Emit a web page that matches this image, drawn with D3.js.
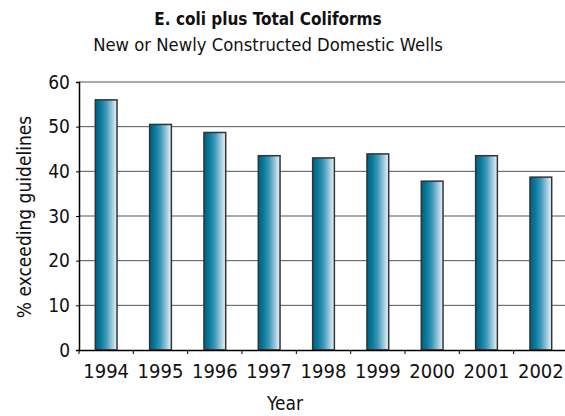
<!DOCTYPE html>
<html><head><meta charset="utf-8">
<script src="https://cdn.jsdelivr.net/npm/d3@7"></script>
<style>
body{margin:0;background:#fff;}
text{font-family:"Liberation Sans Narrow","Arial Narrow","DejaVu Sans Condensed",sans-serif;fill:#111;}
</style></head>
<body>
<svg id="c" width="565" height="416"></svg>
<script>
const years = ["1994","1995","1996","1997","1998","1999","2000","2001","2002"];
const values = [56, 50.5, 48.7, 43.5, 43.0, 43.9, 37.8, 43.5, 38.7];
const yTicks = [0,10,20,30,40,50,60];
const title = "E. coli plus Total Coliforms";
const subtitle = "New or Newly Constructed Domestic Wells";
const xTitle = "Year";
const yTitle = "% exceeding guidelines";

const svg = d3.select("#c");
const L = 79, R = 568, T = 82, B = 350;

const x = d3.scaleBand().domain(years).range([L, R]).paddingInner(0.6).paddingOuter(0.3);
const xt = d3.scaleBand().domain(years).range([L, R]);
const y = d3.scaleLinear().domain([0, 60]).range([B, T]);

const defs = svg.append("defs");
const g = defs.append("linearGradient").attr("id","bg").attr("x1","0").attr("x2","1").attr("y1","0").attr("y2","0");
[["0%","#00607f"],["25%","#0a7a9c"],["50%","#3e97b8"],["75%","#93c5da"],["100%","#eef6fa"]]
  .forEach(([o,c])=>g.append("stop").attr("offset",o).attr("stop-color",c));

// gridlines
svg.append("g").selectAll("line").data(yTicks.filter(d=>d>0)).join("line")
  .attr("x1",L).attr("x2",565).attr("y1",d=>y(d)).attr("y2",d=>y(d))
  .attr("stroke","#555").attr("stroke-width",1);

// bars
svg.append("g").selectAll("rect").data(values).join("rect")
  .attr("x",(d,i)=>x(years[i])).attr("width",x.bandwidth())
  .attr("y",d=>y(d)).attr("height",d=>B-y(d))
  .attr("fill","url(#bg)").attr("stroke","#333").attr("stroke-width",1.5);

// y axis
const ya = svg.append("g").attr("transform",`translate(${L},0)`)
  .call(d3.axisLeft(y).tickValues(yTicks).tickSize(3).tickPadding(6));
ya.select(".domain").attr("stroke","#000").attr("stroke-width",1.5);
ya.selectAll(".tick line").attr("stroke","#000");
ya.selectAll("text").attr("font-size",19).attr("fill","#111")
  .style("font-family",'"Liberation Sans Narrow","Arial Narrow","DejaVu Sans Condensed",sans-serif');

// x axis
const xa = svg.append("g").attr("transform",`translate(0,${B})`)
  .call(d3.axisBottom(xt).tickSize(0).tickPadding(14));
xa.select(".domain").attr("stroke","#000").attr("stroke-width",1.5);
xa.selectAll("text").attr("font-size",20).attr("fill","#111")
  .style("font-family",'"Liberation Sans Narrow","Arial Narrow","DejaVu Sans Condensed",sans-serif');
// boundary ticks
svg.append("g").selectAll("line").data(years).join("line")
  .attr("x1",d=>xt(d)+xt.bandwidth()).attr("x2",d=>xt(d)+xt.bandwidth())
  .attr("y1",B).attr("y2",B+4).attr("stroke","#000");
svg.append("line").attr("x1",L).attr("x2",L).attr("y1",B).attr("y2",B+4).attr("stroke","#000");

svg.append("text").attr("x",268).attr("y",25).attr("text-anchor","middle")
  .attr("font-size",17).attr("font-weight","bold").text(title);
svg.append("text").attr("x",268).attr("y",51).attr("text-anchor","middle")
  .attr("font-size",18.3).text(subtitle);
svg.append("text").attr("x",285).attr("y",410).attr("text-anchor","middle")
  .attr("font-size",19).text(xTitle);
svg.append("text").attr("transform","translate(31,217) rotate(-90)").attr("text-anchor","middle")
  .attr("font-size",19).text(yTitle);
</script>
</body></html>
